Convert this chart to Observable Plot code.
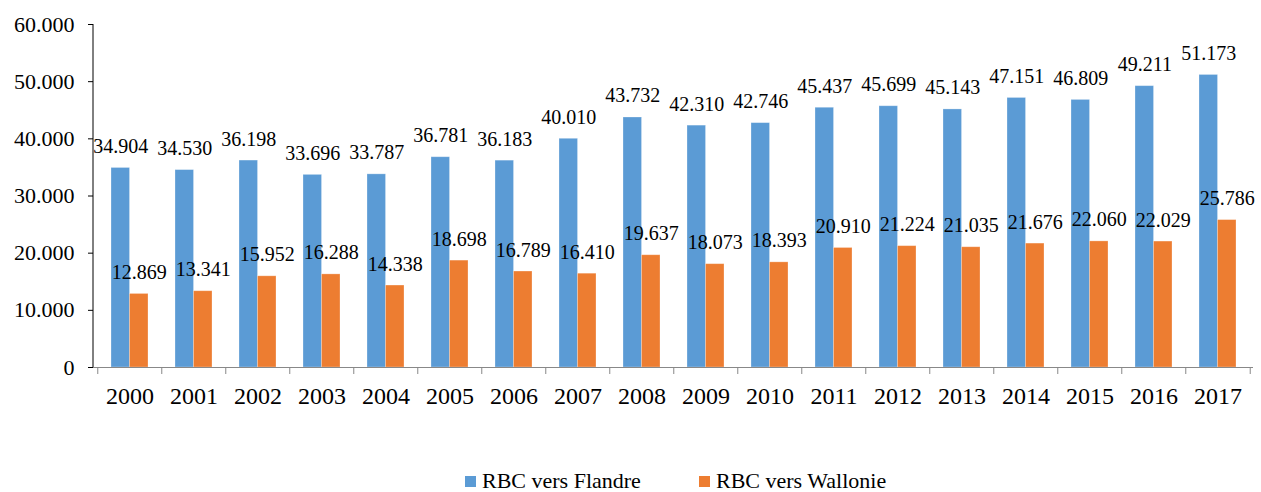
<!DOCTYPE html>
<html>
<head>
<meta charset="utf-8">
<script src="https://cdn.jsdelivr.net/npm/d3@7"></script>
<script src="https://cdn.jsdelivr.net/npm/@observablehq/plot@0.6"></script>
<style>
  body { margin: 0; background: #fff; font-family: "Liberation Serif", "Times New Roman", serif; }
  #chart { position: relative; width: 1261px; height: 492px; }
  #chart svg text { font-family: "Liberation Serif", "Times New Roman", serif; }
  .legend { position: absolute; top: 467px; left: 0; width: 1261px; font-size: 22px; color: #000; font-family: "Liberation Serif", "Times New Roman", serif; }
  .legend .item { position: absolute; top: 0; white-space: nowrap; line-height: 28px; }
  .legend .sw { display: inline-block; width: 11px; height: 11px; margin-right: 6px; vertical-align: 1px; }
</style>
</head>
<body>
<div id="chart"></div>
<script>
const years = ["2000","2001","2002","2003","2004","2005","2006","2007","2008","2009","2010","2011","2012","2013","2014","2015","2016","2017"];
const flandre = [34904,34530,36198,33696,33787,36781,36183,40010,43732,42310,42746,45437,45699,45143,47151,46809,49211,51173];
const wallonie = [12869,13341,15952,16288,14338,18698,16789,16410,19637,18073,18393,20910,21224,21035,21676,22060,22029,25786];
const seriesNames = ["RBC vers Flandre", "RBC vers Wallonie"];
const colors = ["#5B9BD5", "#ED7D31"];
const yTicks = [0,10000,20000,30000,40000,50000,60000];

const fmt = v => v === 0 ? "0" : d3.format(",")(v).replace(/,/g, ".");

const W = 1261, H = 450, mL = 93, mR = 8, mT = 24, mB = 83;
const pad = 0.427;
const step = (W - mL - mR) / years.length;
const bw = step * (1 - pad);
const half = bw / 2;

const rowsF = years.map((y, i) => ({year: y, value: flandre[i]}));
const rowsW = years.map((y, i) => ({year: y, value: wallonie[i]}));

const font = '"Liberation Serif", "Times New Roman", serif';

const plot = Plot.plot({
  width: W,
  height: H,
  marginLeft: mL,
  marginRight: mR,
  marginTop: mT,
  marginBottom: mB,
  style: {fontFamily: font, background: "#fff", color: "#000"},
  x: {domain: years, paddingInner: pad, paddingOuter: pad / 2, label: null},
  y: {domain: [0, 60000], label: null},
  marks: [
    Plot.barY(rowsF, {x: "year", y: "value", fill: colors[0], insetRight: half, insetLeft: 0, stroke: "#fff", strokeOpacity: 0.35, strokeWidth: 0.8}),
    Plot.barY(rowsW, {x: "year", y: "value", fill: colors[1], insetLeft: half, insetRight: 0, stroke: "#fff", strokeOpacity: 0.35, strokeWidth: 0.8}),
    Plot.text(rowsF, {x: "year", y: "value", text: d => fmt(d.value), dx: -half / 2, dy: -15, lineAnchor: "bottom", fontSize: 20, fontFamily: font, fill: "#000"}),
    Plot.text(rowsW, {x: "year", y: "value", text: d => fmt(d.value), dx: half / 2, dy: -15, lineAnchor: "bottom", fontSize: 20, fontFamily: font, fill: "#000"}),
    Plot.axisY({ticks: yTicks, tickFormat: fmt, tickSize: 5, tickPadding: 14, fontSize: 22, fontFamily: font, stroke: "#000", fill: "#000"}),
    Plot.ruleY([0], {stroke: "#888", strokeWidth: 1.2}),
    Plot.ruleX(years, {x: d => d, y1: 0, y2: 0, insetBottom: -7, dx: -step / 2, stroke: "#888"}),
    Plot.ruleX([years[years.length - 1]], {x: d => d, y1: 0, y2: 0, insetBottom: -7, dx: step / 2, stroke: "#888"}),
    Plot.axisX({tickSize: 0, tickPadding: 19, fontSize: 24, fontFamily: font, fill: "#000"})
  ]
});

const chart = document.getElementById("chart");
chart.appendChild(plot);

// vertical y axis line drawn from the plot's own y scale
const ys = plot.scale("y");
d3.select(plot).append("line")
  .attr("x1", mL).attr("x2", mL)
  .attr("y1", ys.apply(60000)).attr("y2", ys.apply(0))
  .attr("stroke", "#000").attr("stroke-width", 1);

const legend = document.createElement("div");
legend.className = "legend";
const positions = [465, 699];
seriesNames.forEach((name, i) => {
  const item = document.createElement("div");
  item.className = "item";
  item.style.left = positions[i] + "px";
  item.innerHTML = `<span class="sw" style="background:${colors[i]}"></span>${name}`;
  legend.appendChild(item);
});
chart.appendChild(legend);
</script>
</body>
</html>
